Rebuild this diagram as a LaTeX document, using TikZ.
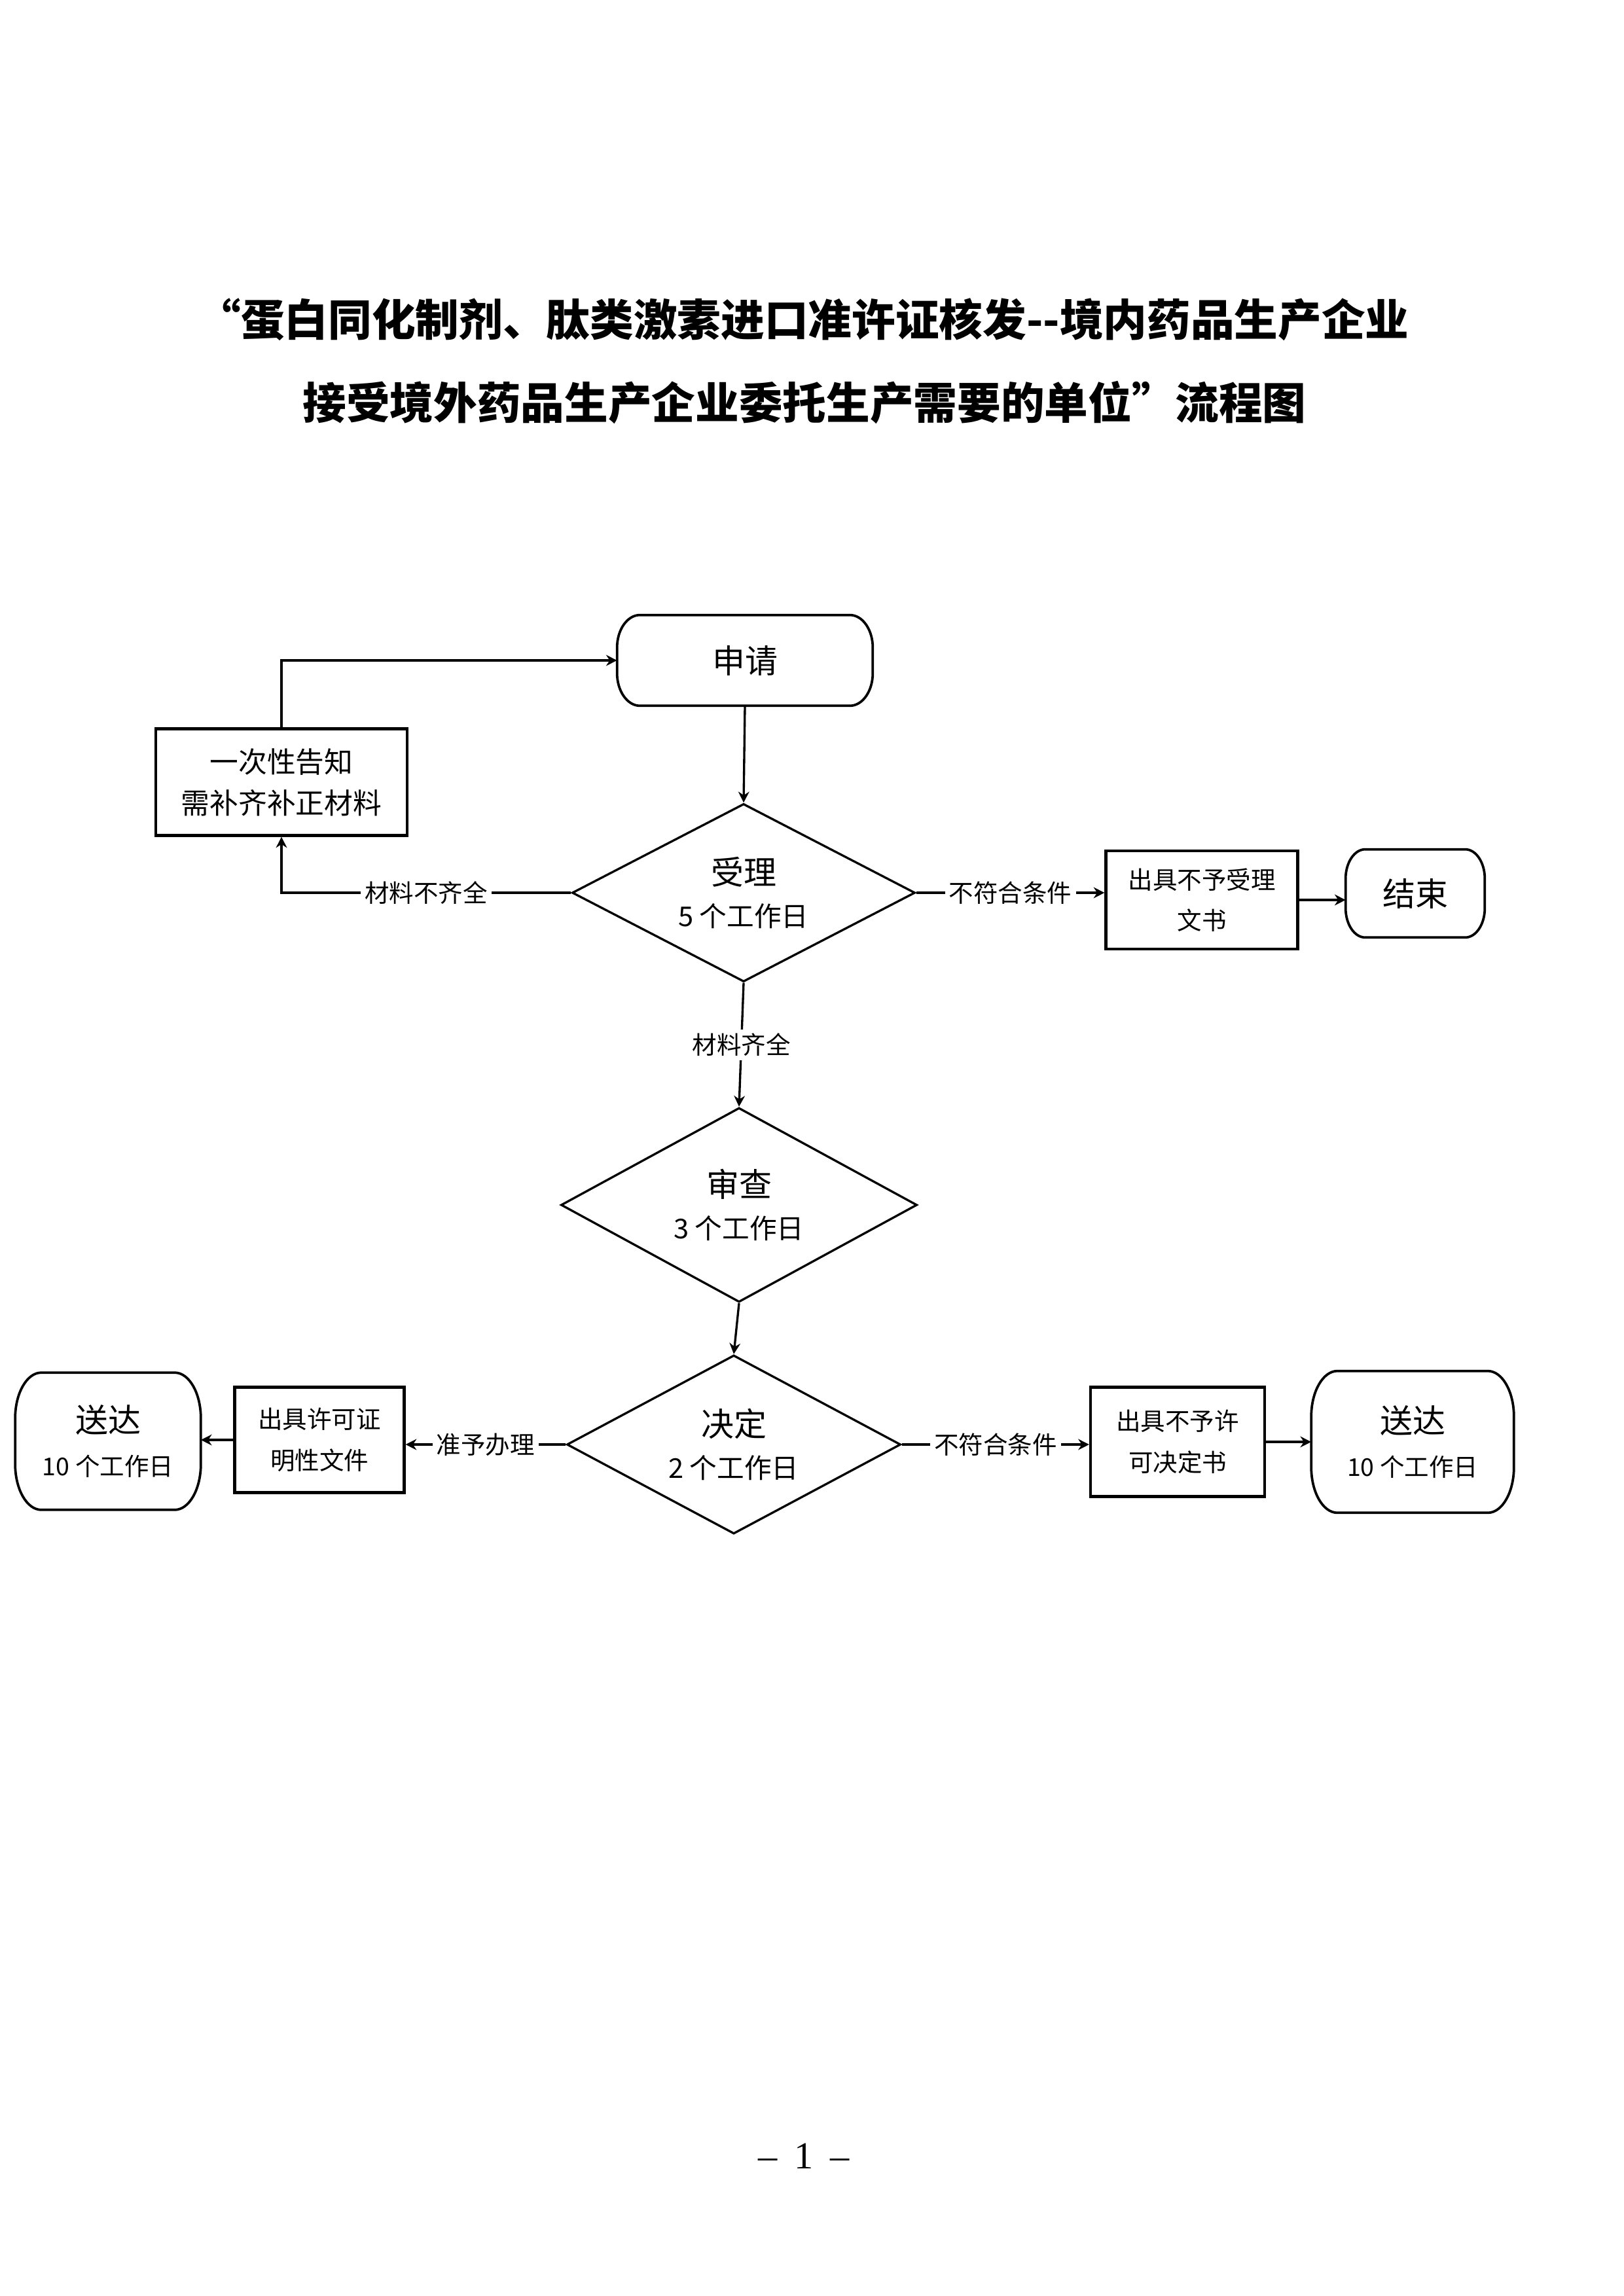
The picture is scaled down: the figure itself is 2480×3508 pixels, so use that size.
\documentclass[tikz,border=0pt]{standalone}
\usepackage{fontspec}
\setmainfont{Noto Sans CJK SC}
\newfontfamily\serifpn{Liberation Serif}
\usetikzlibrary{shapes.geometric,arrows.meta}
\newdimen\pxu \pxu=0.24pt
% capsule outline with elliptical corners around a named node
\newcommand\capsule[3]{%
  \draw[capline] ([xshift=#2]#1.north west) -- ([xshift=-#2]#1.north east)
    arc[start angle=90,end angle=0,x radius=#2,y radius=#3]
    -- ([yshift=#3]#1.south east)
    arc[start angle=0,end angle=-90,x radius=#2,y radius=#3]
    -- ([xshift=#2]#1.south west)
    arc[start angle=270,end angle=180,x radius=#2,y radius=#3]
    -- ([yshift=-#3]#1.north west)
    arc[start angle=180,end angle=90,x radius=#2,y radius=#3] -- cycle;}
\tikzset{
  capline/.style={line width=0.9pt},
  capnode/.style={draw=none,inner sep=0pt,align=center},
  rectbox/.style={draw,line width=1pt,inner sep=0pt,align=center,
    font=\fontsize{9}{15}\selectfont},
  decision/.style={draw,diamond,aspect=1.95,line width=0.8pt,inner sep=0pt,align=center,
    font=\fontsize{10}{15.4}\selectfont},
  conn/.style={line width=0.8pt,-{Stealth[length=4pt,width=4pt]}},
  lbl/.style={fill=white,inner sep=1.5pt,font=\fontsize{9}{11}\selectfont},
  titlefont/.style={font=\fontsize{16}{20}\selectfont\bfseries}
}
\begin{document}
\begin{tikzpicture}[x=0.24pt,y=0.24pt]
\fill[white] (0,0) rectangle (2480,-3508);
\useasboundingbox (0,0) rectangle (2480,-3508);

% title
\node[titlefont] (t1) at (1227,-488) {“蛋白同化制剂、肽类激素进口准许证核发-{}-境内药品生产企业};
\node[titlefont] (t2) at (1229,-615) {接受境外药品生产企业委托生产需要的单位”流程图};

% nodes
\node[capnode,minimum width=389\pxu,minimum height=137\pxu,
      font=\fontsize{12}{14}\selectfont] (sq) at (1138,-1009) {申请};
\capsule{sq}{35\pxu}{50\pxu}

\node[rectbox,minimum width=384\pxu,minimum height=163\pxu,
      font=\fontsize{10.5}{15.1}\selectfont] (bx) at (430,-1195) {一次性告知\\需补齐补正材料};

\node[decision,minimum width=524\pxu,minimum height=272\pxu] (sl) at (1136,-1364)
  {{\fontsize{12}{15.4}\selectfont 受理}\\5 个工作日};

\node[rectbox,minimum width=293\pxu,minimum height=150\pxu] (nsl) at (1836,-1375) {出具不予受理\\文书};

\node[capnode,minimum width=211\pxu,minimum height=133\pxu,
      font=\fontsize{12}{14}\selectfont] (js) at (2162,-1365) {结束};
\capsule{js}{30\pxu}{45\pxu}

\node[decision,minimum width=544\pxu,minimum height=297\pxu] (sc) at (1129,-1841)
  {{\fontsize{12}{15.4}\selectfont 审查}\\3 个工作日};

\node[decision,minimum width=510\pxu,minimum height=273\pxu] (jd) at (1121,-2207)
  {{\fontsize{12}{15.4}\selectfont 决定}\\2 个工作日};

\node[rectbox,minimum width=266\pxu,minimum height=167\pxu] (nxk) at (1799,-2203) {出具不予许\\可决定书};

\node[capnode,minimum width=308\pxu,minimum height=215\pxu,
      font=\fontsize{9}{16}\selectfont] (sdr) at (2158,-2203)
  {{\fontsize{12}{16}\selectfont 送达}\\10 个工作日};
\capsule{sdr}{40\pxu}{70\pxu}

\node[rectbox,minimum width=259\pxu,minimum height=161\pxu] (xk) at (488,-2200) {出具许可证\\明性文件};

\node[capnode,minimum width=282\pxu,minimum height=208\pxu,
      font=\fontsize{9}{16}\selectfont] (sdl) at (165,-2202)
  {{\fontsize{12}{16}\selectfont 送达}\\10 个工作日};
\capsule{sdl}{40\pxu}{70\pxu}

% connectors
\draw[conn] (sq.south) -- (sl.north);
\draw[conn] (sl.west) -- node[lbl]{材料不齐全} (sl.west -| bx.south) -- (bx.south);
\draw[conn] (bx.north) |- (sq.west);
\draw[conn] (sl.east) -- node[lbl]{不符合条件} (sl.east -| nsl.west);
\draw[conn] (nsl.east) -- (nsl.east -| js.west);
\draw[conn] (sl.south) -- node[lbl]{材料齐全} (sc.north);
\draw[conn] (sc.south) -- (jd.north);
\draw[conn] (jd.east) -- node[lbl]{不符合条件} (jd.east -| nxk.west);
\draw[conn] (nxk.east) -- (nxk.east -| sdr.west);
\draw[conn] (jd.west) -- node[lbl]{准予办理} (jd.west -| xk.east);
\draw[conn] (xk.west) -- (xk.west -| sdl.east);

% page number
\node[font=\serifpn\fontsize{14}{16}\selectfont] (pg) at (1228,-3294) {–\hspace{0.45em}1\hspace{0.45em}–};
\end{tikzpicture}
\end{document}
